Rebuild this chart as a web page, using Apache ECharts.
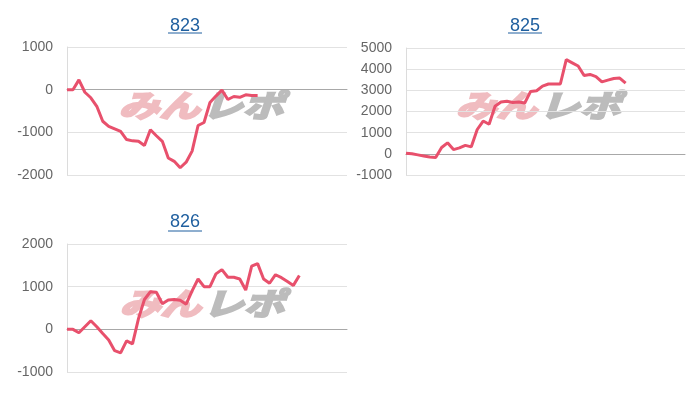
<!DOCTYPE html>
<html><head><meta charset="utf-8">
<script src="https://cdn.jsdelivr.net/npm/echarts@6/dist/echarts.min.js"></script>
<style>html,body{margin:0;padding:0;background:#fff}#c{width:700px;height:400px}</style>
</head><body><div id="c"></div>
<script>
// ---- data ----
const categories = ['1','2','3','4','5','6','7','8','9','10','11','12','13','14','15','16','17','18','19','20','21','22','23','24','25','26','27','28','29','30','31','32','33','34','35','36','37','38','39','40','41','42','43','44','45','46','47','48'];
const titles = ['823', '825', '826'];
const s823 = [0,0,230,-60,-190,-390,-740,-860,-920,-980,-1170,-1200,-1210,-1310,-940,-1080,-1210,-1600,-1680,-1830,-1700,-1440,-840,-770,-300,-150,-10,-230,-160,-180,-120,-135,-135];
const s825 = [30,0,-50,-100,-150,-170,300,520,200,280,400,330,1150,1550,1400,2250,2450,2480,2430,2450,2400,2950,2980,3200,3300,3300,3300,4450,4300,4150,3700,3750,3650,3400,3480,3560,3580,3340];
const s826 = [0,0,-80,60,200,60,-100,-250,-500,-550,-270,-340,250,700,880,870,600,690,700,680,590,900,1180,1000,1000,1300,1400,1220,1220,1180,920,1480,1540,1180,1080,1280,1210,1120,1030,1260];
const yMins = [-2000, -1000, -1000];
const yMaxs = [1000, 5000, 2000];
const seriesData = [s823, s825, s826];

// ---- layout / style ----
const grids = [
  {left: 67, right: 353, top: 47, bottom: 225},
  {left: 406, right: 15, top: 48, bottom: 225},
  {left: 67, right: 353, top: 244, bottom: 28}
];
const titlePos = [[185, 26, 33], [525, 26, 33], [185, 222, 231]];
const logoPos = [[202, 105], [539, 105], [203, 303]];
const lineColor = '#e8506c';
const linkColor = '#1f5f9f';

const chart = echarts.init(document.getElementById('c'), null, {renderer: 'canvas'});
const graphic = [];
titles.forEach((t, i) => {
  const [cx, cy, uy] = titlePos[i];
  graphic.push({type: 'text', x: cx, y: cy, z: 10,
    style: {text: t, fill: linkColor, font: '18px "Liberation Sans", Arial, sans-serif', textAlign: 'center', textVerticalAlign: 'middle'}});
  graphic.push({type: 'line', z: 10, shape: {x1: cx - 17, y1: uy, x2: cx + 17, y2: uy}, style: {stroke: linkColor, lineWidth: 1}});
});
logoPos.forEach(([cx, cy]) => {
  graphic.push({type: 'text', x: cx - 2, y: cy, z: -1, scaleX: 1.2, scaleY: 0.9,
    style: {text: 'みん', fill: '#f0bcc0', stroke: '#f0bcc0', lineWidth: 2.5, font: 'italic bold 34px "Noto Sans CJK JP", sans-serif', textAlign: 'right', textVerticalAlign: 'middle'}});
  graphic.push({type: 'text', x: cx, y: cy, z: -1, scaleX: 1.2, scaleY: 0.9,
    style: {text: 'レポ', fill: '#bcbcbc', stroke: '#bcbcbc', lineWidth: 2.5, font: 'italic bold 34px "Noto Sans CJK JP", sans-serif', textAlign: 'left', textVerticalAlign: 'middle'}});
});

const option = {
  animation: false,
  backgroundColor: '#fff',
  grid: grids,
  graphic: graphic,
  xAxis: grids.map((g, i) => ({
    type: 'category', gridIndex: i, data: categories, boundaryGap: false,
    axisLabel: {show: false}, axisTick: {show: false},
    axisLine: {show: true, onZero: true, lineStyle: {color: '#a8a8a8', width: 1}},
    splitLine: {show: false}
  })),
  yAxis: grids.map((g, i) => ({
    type: 'value', gridIndex: i, min: yMins[i], max: yMaxs[i], interval: 1000,
    axisLine: {show: true, lineStyle: {color: '#dcdcdc'}},
    axisTick: {show: false},
    axisLabel: {color: '#666', fontSize: 14, margin: 14, fontFamily: '"Liberation Sans", Arial, sans-serif', formatter: v => String(v)},
    splitLine: {show: true, lineStyle: {color: '#e2e2e2', width: 1}}
  })),
  series: seriesData.map((d, i) => ({
    type: 'line', xAxisIndex: i, yAxisIndex: i, data: d, showSymbol: false, symbol: 'none',
    lineStyle: {color: lineColor, width: 3}, z: 5
  }))
};
chart.setOption(option);
</script></body></html>
